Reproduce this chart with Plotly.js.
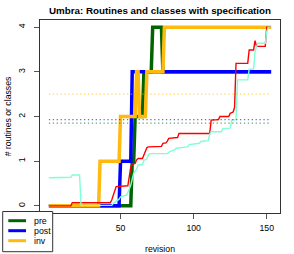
<!DOCTYPE html>
<html>
<head>
<meta charset="utf-8">
<script src="https://cdn.plot.ly/plotly-3.0.1.min.js"></script>
<style>
  html, body { margin: 0; padding: 0; background: #ffffff; }
  #chart { width: 294px; height: 254px; }
</style>
</head>
<body>
<div id="chart"></div>
<script>
// ---- data ----
const seriesNames = ["pre", "post", "inv"];
const seriesColors = ["#006400", "#0000FF", "#FFB90F"];

const preX  = [1, 57, 58, 59, 60, 65, 66, 71, 72, 78, 79, 153];
const preY  = [0, 0, 1, 1, 2, 2, 3, 3, 4, 4, 3, 3];

const postX = [1, 49, 50, 57, 58, 153];
const postY = [0, 0, 1, 1, 3, 3];

const invX  = [1, 35, 36, 49, 50, 60, 61, 62, 63, 67, 68, 79, 80, 153];
const invY  = [0, 0, 1, 1, 2, 2, 3, 3, 2, 2, 3, 3, 4, 4];

// average lines (dotted), same order as seriesNames
const meanValues = [1.85, 1.93, 2.50];
const meanRange = [1, 153];

const redX = [1, 16, 17, 43, 44, 45, 46, 47, 55, 56, 57, 58, 60, 61, 62, 65, 66, 67, 68, 69, 78, 79, 81, 82, 83, 89, 90, 111, 112, 117, 118, 124, 125, 127, 128, 129, 137, 138, 141, 142, 143, 149, 150, 153];
const redY = [0, 0, 0.07, 0.07, 0.13, 0.24, 0.30, 0.43, 0.45, 0.65, 0.87, 0.93, 0.95, 1.03, 1.06, 1.06, 1.15, 1.21, 1.30, 1.32, 1.33, 1.40, 1.41, 1.45, 1.51, 1.53, 1.62, 1.62, 1.92, 1.93, 2.00, 2.00, 2.07, 2.10, 2.20, 3.19, 3.19, 3.49, 3.49, 3.70, 3.57, 3.57, 4.00, 4.00];

const aquaX = [1, 16, 17, 22, 23, 44, 45, 47, 49, 50, 54, 55, 57, 58, 59, 61, 62, 65, 66, 68, 69, 70, 80, 82, 84, 87, 88, 96, 97, 104, 105, 110, 111, 112, 119, 120, 125, 126, 129, 130, 137, 138, 141, 142, 143, 144, 149, 150, 151, 153];
const aquaY = [0.63, 0.64, 0.69, 0.69, 0.01, 0.01, 0.05, 0.10, 0.15, 0.20, 0.24, 0.30, 0.46, 0.60, 0.73, 0.82, 0.91, 0.93, 1.02, 1.05, 1.14, 1.17, 1.16, 1.17, 1.22, 1.25, 1.29, 1.32, 1.37, 1.40, 1.44, 1.46, 1.60, 1.66, 1.66, 1.73, 1.74, 1.92, 1.93, 2.82, 2.82, 3.06, 3.06, 3.45, 3.55, 3.64, 3.64, 3.90, 4.00, 4.00];

// the tick at 0 is hidden behind the legend box in the reference
const xTicks = [50, 100, 150];
const yTicks = [0, 1, 2, 3, 4];

const titleText = "Umbra: Routines and classes with specification";
const xTitle = "revision";
const yTitle = "# routines or classes";

// ---- layout geometry ----
const W = 294, H = 254;
const M = { l: 40, r: 14, t: 20, b: 41 };
const plotW = W - M.l - M.r, plotH = H - M.t - M.b;
const px2x = p => (p - M.l) / plotW;
const py2y = p => (H - M.b - p) / plotH;

const FONT = "Liberation Sans, Arial, Helvetica, sans-serif";

const stepX = [preX, postX, invX];
const stepY = [preY, postY, invY];

const traces = [];
for (let i = 0; i < 3; i++) {
  traces.push({
    type: "scatter", mode: "lines", name: seriesNames[i],
    x: stepX[i], y: stepY[i],
    line: { color: seriesColors[i], width: 3.5 },
    hoverinfo: "skip", showlegend: false
  });
}
traces.push({
  type: "scatter", mode: "lines", x: redX, y: redY,
  line: { color: "#FF0000", width: 1.4 }, hoverinfo: "skip", showlegend: false
});
traces.push({
  type: "scatter", mode: "lines", x: aquaX, y: aquaY,
  line: { color: "#7FFFD4", width: 1.4 }, hoverinfo: "skip", showlegend: false
});
for (let i = 0; i < 3; i++) {
  traces.push({
    type: "scatter", mode: "lines",
    x: meanRange, y: [meanValues[i], meanValues[i]],
    line: { color: seriesColors[i], width: 1.2, dash: "1.3px,2.6px" },
    opacity: 0.6, hoverinfo: "skip", showlegend: false
  });
}

// manual legend (R style box)
const legBox = { x0: 2.7, x1: 52.7, y0: 211.5, y1: 251.7 };
const legRows = [220.7, 230.7, 240.7];
const shapes = [{
  type: "rect", xref: "paper", yref: "paper", layer: "above",
  x0: px2x(legBox.x0), x1: px2x(legBox.x1), y0: py2y(legBox.y1), y1: py2y(legBox.y0),
  fillcolor: "#ffffff", line: { color: "#333333", width: 1 }
}];
const annotations = [];
for (let i = 0; i < 3; i++) {
  shapes.push({
    type: "line", xref: "paper", yref: "paper", layer: "above",
    x0: px2x(8.3), x1: px2x(26), y0: py2y(legRows[i]), y1: py2y(legRows[i]),
    line: { color: seriesColors[i], width: 3 }
  });
  annotations.push({
    xref: "paper", yref: "paper", x: px2x(32), y: py2y(legRows[i]),
    xanchor: "left", yanchor: "middle", showarrow: false,
    text: seriesNames[i], font: { family: FONT, size: 8.8, color: "#000" }
  });
}

const layout = {
  width: W, height: H,
  margin: M,
  paper_bgcolor: "#ffffff", plot_bgcolor: "#ffffff",
  font: { family: FONT, size: 8.7, color: "#000" },
  showlegend: false,
  title: {
    text: "<b>" + titleText + "</b>",
    font: { family: FONT, size: 9.8, color: "#000" },
    x: (M.l + plotW / 2) / W, xanchor: "center", xref: "container",
    y: 1 - 10.5 / H, yanchor: "middle", yref: "container"
  },
  xaxis: {
    range: [-5.08, 159.08], tickvals: xTicks, ticktext: xTicks.map(String),
    showgrid: false, zeroline: false,
    showline: true, mirror: true, linecolor: "#333", linewidth: 1,
    ticks: "outside", ticklen: 5, tickcolor: "#555", tickwidth: 1,
    ticklabelstandoff: 2,
    tickfont: { family: FONT, size: 8.7, color: "#000" },
    title: { text: xTitle, font: { family: FONT, size: 8.7, color: "#000" }, standoff: 14 },
    fixedrange: true
  },
  yaxis: {
    range: [-0.16, 4.16], tickvals: yTicks, ticktext: yTicks.map(String),
    showgrid: false, zeroline: false,
    showline: true, mirror: true, linecolor: "#333", linewidth: 1,
    ticks: "outside", ticklen: 5, tickcolor: "#555", tickwidth: 1,
    tickangle: -90, ticklabelstandoff: 6,
    tickfont: { family: FONT, size: 8.7, color: "#000" },
    title: { text: yTitle, font: { family: FONT, size: 8.7, color: "#000" }, standoff: 3 },
    fixedrange: true
  },
  shapes: shapes,
  annotations: annotations
};

Plotly.newPlot("chart", traces, layout, { staticPlot: true, displayModeBar: false });
</script>
</body>
</html>
